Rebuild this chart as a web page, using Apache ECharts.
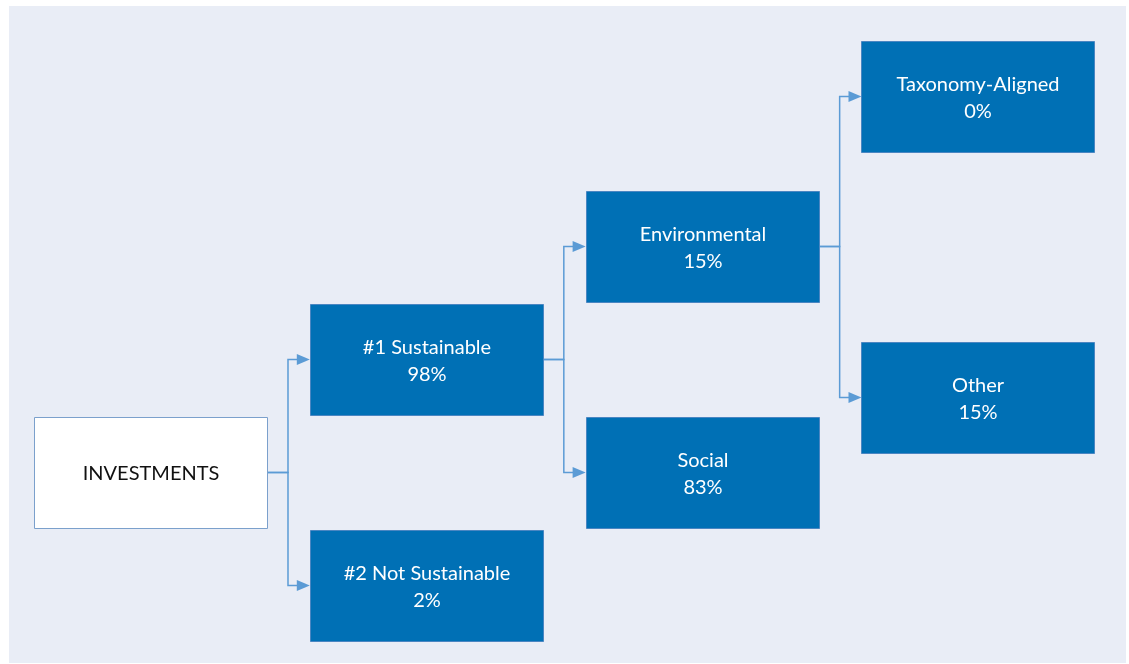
<!DOCTYPE html>
<html>
<head>
<meta charset="utf-8">
<script src="https://cdn.jsdelivr.net/npm/echarts@6/dist/echarts.min.js"></script>
<style>
html,body{margin:0;padding:0;background:#fff;}
#chart{width:1129px;height:664px;}
</style>
</head>
<body>
<div id="chart"></div>
<script>
// ---- data ----
var nodeNames = ['INVESTMENTS', '#1 Sustainable', '#2 Not Sustainable', 'Environmental', 'Social', 'Taxonomy-Aligned', 'Other'];
var nodeShares = [null, 98, 2, 15, 83, 0, 15];          // percent of investments
var nodeParents = [-1, 0, 0, 1, 1, 3, 3];              // tree structure
// ---- layout (tree level and vertical slot on the hidden axes) ----
var nodeLevels = [0, 1, 1, 2, 2, 3, 3];
var nodeRows = [472.5, 359.5, 585.5, 246.5, 472.5, 96.5, 397.5];

var BOX_W = 233, BOX_H = 111;
var LINE_COLOR = '#5B9BD5';
var FONT = '20px Lato, "Open Sans", sans-serif';

var nodeData = nodeNames.map(function (n, i) {
  return [nodeLevels[i], nodeRows[i], i];
});
var linkData = [];
nodeParents.forEach(function (p, i) {
  if (p >= 0) linkData.push([nodeLevels[p], nodeRows[p], nodeLevels[i], nodeRows[i]]);
});

function labelOf(i) {
  return nodeShares[i] === null ? nodeNames[i] : nodeNames[i] + '\n' + nodeShares[i] + '%';
}

var chart = echarts.init(document.getElementById('chart'), null, {renderer: 'canvas'});
chart.setOption({
  backgroundColor: '#ffffff',
  animation: false,
  graphic: [{
    type: 'rect', z: -10, silent: true,
    shape: {x: 9, y: 6, width: 1117, height: 657},
    style: {fill: '#E9EDF6'}
  }],
  grid: {left: 0, right: 0, top: 0, bottom: 0},
  xAxis: {type: 'value', min: -0.5456, max: 3.5475, show: false},
  yAxis: {type: 'value', min: 0, max: 664, inverse: true, show: false},
  series: [{
    type: 'custom',
    name: 'links',
    coordinateSystem: 'cartesian2d',
    data: linkData,
    encode: {x: [0, 2], y: [1, 3]},
    z: 1,
    renderItem: function (params, api) {
      var p = api.coord([api.value(0), api.value(1)]);
      var c = api.coord([api.value(2), api.value(3)]);
      var px = p[0] + BOX_W / 2;
      var cx = c[0] - BOX_W / 2;
      var ex = px + 21;
      var al = 13, aw = 5.5;
      return {
        type: 'group',
        children: [{
          type: 'polyline',
          shape: {points: [[px, p[1]], [ex, p[1]], [ex, c[1]], [cx - al + 1, c[1]]]},
          style: {stroke: LINE_COLOR, lineWidth: 1.5, fill: null}
        }, {
          type: 'polygon',
          shape: {points: [[cx, c[1]], [cx - al, c[1] - aw], [cx - al, c[1] + aw]]},
          style: {fill: LINE_COLOR}
        }]
      };
    }
  }, {
    type: 'custom',
    name: 'nodes',
    coordinateSystem: 'cartesian2d',
    data: nodeData,
    encode: {x: 0, y: 1},
    z: 2,
    renderItem: function (params, api) {
      var i = api.value(2);
      var c = api.coord([api.value(0), api.value(1)]);
      var root = nodeParents[i] < 0;
      return {
        type: 'rect',
        shape: {x: Math.round(c[0] - BOX_W / 2) + 0.5, y: Math.round(c[1] - BOX_H / 2) + 0.5, width: BOX_W, height: BOX_H},
        style: {
          fill: root ? '#ffffff' : '#0070B5',
          stroke: root ? '#7BA0CC' : '#4A86C2',
          lineWidth: 1
        },
        textContent: {
          style: {
            text: labelOf(i),
            fill: root ? '#111111' : '#ffffff',
            font: FONT,
            lineHeight: 27,
            align: 'center',
            verticalAlign: 'middle'
          }
        },
        textConfig: {position: 'inside', offset: [0, 1]}
      };
    }
  }]
});
</script>
</body>
</html>
